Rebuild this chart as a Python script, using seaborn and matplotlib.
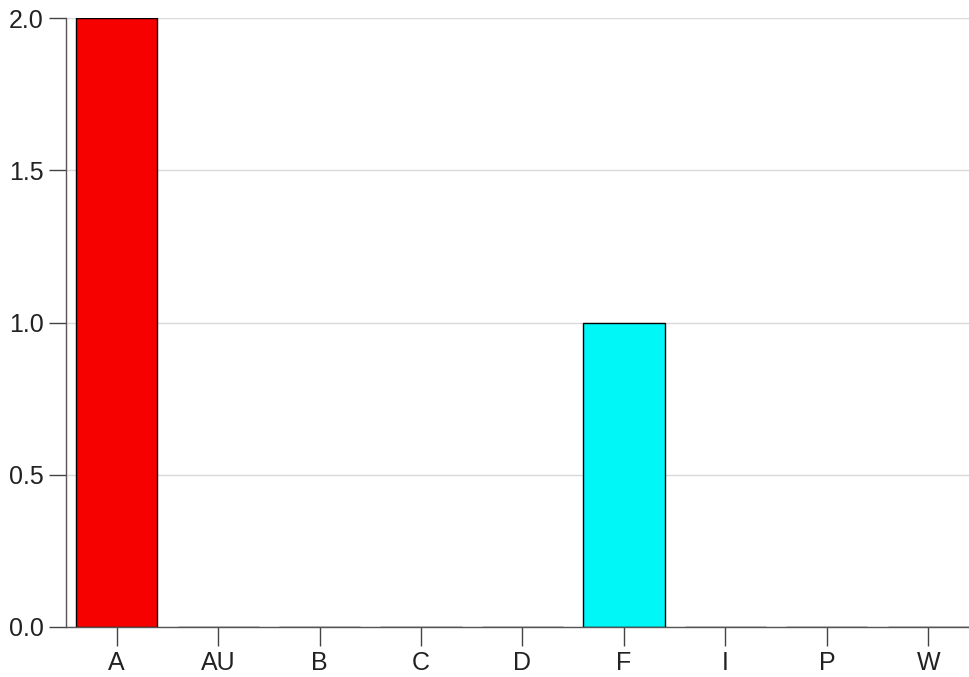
import matplotlib
matplotlib.use("Agg")
import matplotlib.pyplot as plt
import seaborn as sns
import pandas as pd

categories = ["A", "AU", "B", "C", "D", "F", "I", "P", "W"]
values = [2, 0, 0, 0, 0, 1, 0, 0, 0]
colors = ["#f70000", "#f70000", "#f70000", "#f70000", "#f70000", "#00f7f7", "#00f7f7", "#00f7f7", "#00f7f7"]
yticks = [0.0, 0.5, 1.0, 1.5, 2.0]

sns.set_theme(style="white")
plt.rcParams["font.family"] = ["Liberation Sans", "DejaVu Sans"]

fig = plt.figure(figsize=(9.7, 6.77), dpi=100)
W, H = 970, 677
ax = fig.add_axes([66 / W, (H - 627) / H, 913 / W, 609 / H])

df = pd.DataFrame({"cat": categories, "val": values})
sns.barplot(data=df, x="cat", y="val", hue="cat", palette=colors, legend=False,
            width=0.8, edgecolor="black", linewidth=1, saturation=1, ax=ax)

ax.set_ylim(0, 2)
ax.set_xlim(-0.5, 8.5)
ax.set_yticks(yticks)
ax.set_yticklabels([f"{t:.1f}" for t in yticks])
ax.set_xlabel("")
ax.set_ylabel("")
ax.yaxis.grid(True, color="#d9d9d9", linewidth=1)
ax.set_axisbelow(True)
for s in ["top", "right"]:
    ax.spines[s].set_visible(False)
for s in ["left", "bottom"]:
    ax.spines[s].set_color("#555555")
    ax.spines[s].set_linewidth(1)
ax.tick_params(axis="both", which="major", direction="out", length=12, width=1,
               color="#444444", labelsize=18, labelcolor="#222222", pad=4,
               left=True, bottom=True)
ax.tick_params(axis="x", length=14, pad=3)

fig.savefig("out.png", dpi=100)
